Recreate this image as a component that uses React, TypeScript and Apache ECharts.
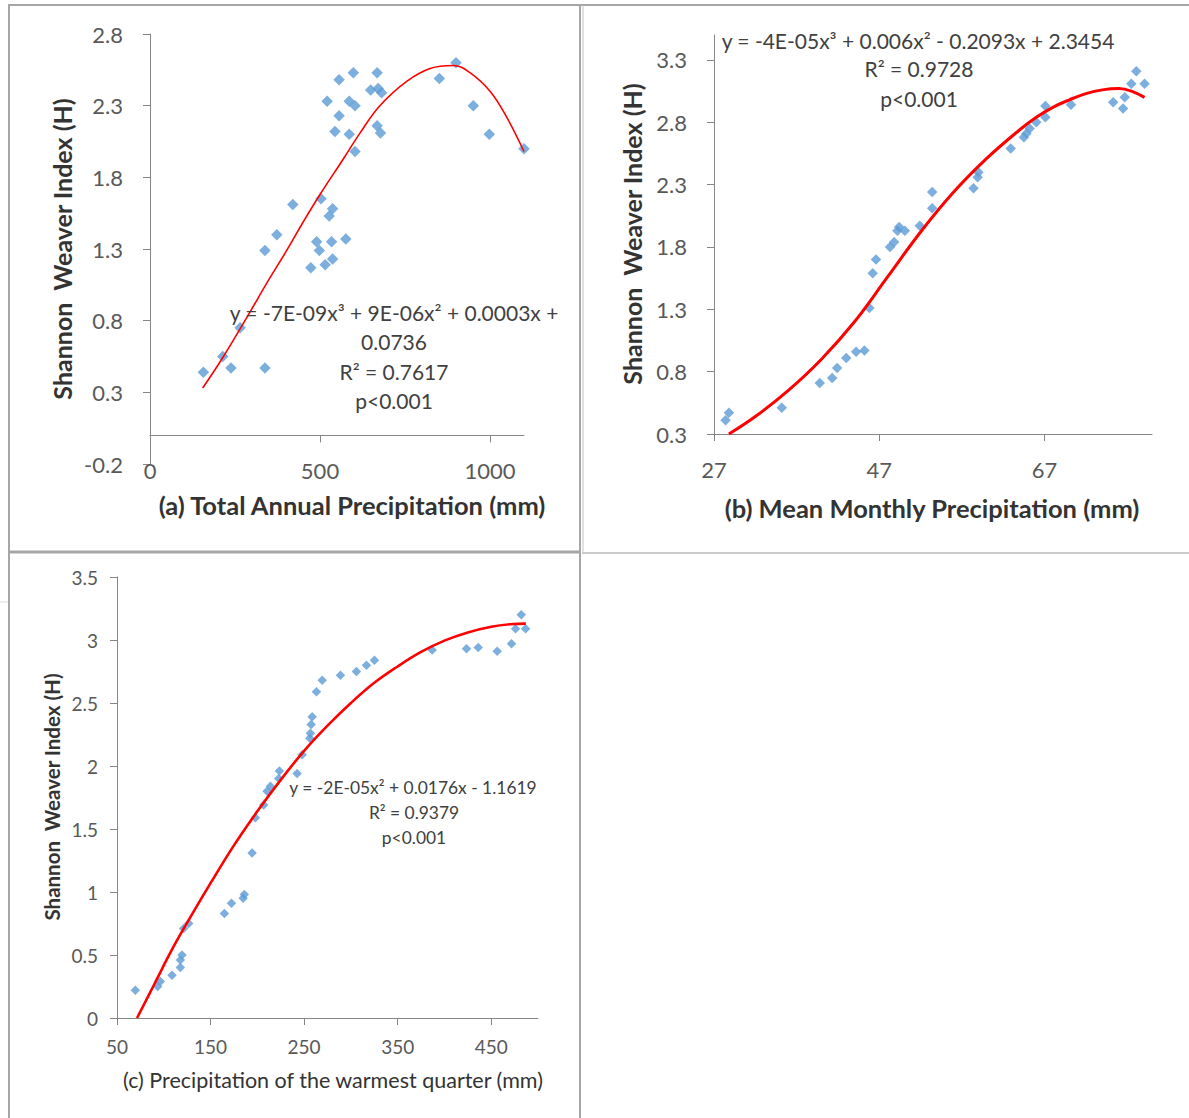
import React, { useEffect, useRef } from "react";
import * as echarts from "echarts";

// ---------- Panel (a): Total annual precipitation ----------
const annualPrecip = [157, 214, 238, 265, 338, 338, 373, 420, 473, 490, 498, 503, 515, 527, 537, 534, 537, 576, 521, 544, 556, 556, 586, 586, 598, 603, 603, 649, 668, 671, 681, 668, 678, 851, 900, 951, 998, 1100];
const shannonA = [0.44, 0.55, 0.47, 0.75, 1.29, 0.47, 1.40, 1.61, 1.17, 1.35, 1.29, 1.65, 1.19, 1.53, 1.58, 1.35, 1.23, 1.37, 2.33, 2.12, 2.48, 2.23, 2.33, 2.10, 2.53, 2.30, 1.98, 2.41, 2.53, 2.42, 2.39, 2.16, 2.11, 2.49, 2.60, 2.30, 2.10, 2.00];
const trendAX = [155, 216, 294, 343, 402, 451, 500, 569, 618, 676, 755, 824, 892, 941, 1000, 1049, 1100];
const trendAY = [0.33, 0.55, 0.86, 1.06, 1.29, 1.49, 1.68, 1.93, 2.11, 2.30, 2.47, 2.56, 2.58, 2.53, 2.40, 2.22, 1.98];
const aXTicks = [0, 500, 1000];
const aYTicks = [-0.2, 0.3, 0.8, 1.3, 1.8, 2.3, 2.8];

// ---------- Panel (b): Mean monthly precipitation ----------
const monthlyPrecip = [28.4, 28.8, 35.2, 39.8, 41.3, 41.9, 43.0, 44.2, 45.2, 45.8, 46.2, 46.6, 48.3, 48.8, 49.2, 49.4, 50.1, 51.9, 53.4, 53.4, 58.4, 58.9, 59.0, 62.9, 64.5, 64.8, 65.2, 66.0, 67.1, 67.1, 70.2, 75.3, 76.5, 76.7, 77.5, 78.1, 79.1];
const shannonB = [0.41, 0.47, 0.51, 0.71, 0.75, 0.83, 0.91, 0.96, 0.97, 1.31, 1.59, 1.70, 1.80, 1.84, 1.93, 1.96, 1.93, 1.97, 2.11, 2.24, 2.27, 2.36, 2.40, 2.59, 2.68, 2.71, 2.75, 2.80, 2.84, 2.93, 2.94, 2.96, 2.91, 3.00, 3.11, 3.21, 3.11];
const trendBX = [28.8, 32, 36, 40, 44, 48, 52, 56, 60, 64, 66, 68, 70, 72, 74, 76, 77.5, 79.1];
const trendBY = [0.30, 0.44, 0.65, 0.90, 1.20, 1.56, 1.92, 2.24, 2.51, 2.74, 2.84, 2.92, 2.98, 3.03, 3.06, 3.07, 3.05, 3.00];
const bXTicks = [27, 47, 67];
const bYTicks = [0.3, 0.8, 1.3, 1.8, 2.3, 2.8, 3.3];

// ---------- Panel (c): Precipitation of the warmest quarter ----------
const warmestQ = [69.6, 93.4, 96.3, 108.8, 117.7, 117.7, 119.5, 121.2, 126.6, 164.8, 172.3, 184.8, 186.1, 194.4, 197.9, 206.8, 210.4, 214.0, 222.8, 223.6, 242.5, 247.9, 256.0, 256.7, 257.5, 258.6, 263.2, 269.3, 288.8, 305.9, 316.6, 325.2, 386.9, 423.6, 436.1, 456.4, 471.7, 476.0, 482.1, 486.7];
const shannonC = [0.22, 0.25, 0.29, 0.34, 0.40, 0.46, 0.50, 0.71, 0.75, 0.83, 0.91, 0.95, 0.98, 1.31, 1.59, 1.69, 1.80, 1.84, 1.90, 1.96, 1.94, 2.09, 2.22, 2.26, 2.33, 2.39, 2.59, 2.68, 2.72, 2.75, 2.80, 2.84, 2.92, 2.93, 2.94, 2.91, 2.97, 3.09, 3.20, 3.09];
const trendCX = [71.4, 90, 110, 130, 150, 175, 200, 225, 250, 275, 300, 325, 350, 375, 400, 425, 450, 470, 487];
const trendCY = [0, 0.27, 0.56, 0.82, 1.07, 1.37, 1.64, 1.89, 2.12, 2.32, 2.50, 2.66, 2.79, 2.905, 2.995, 3.06, 3.105, 3.125, 3.13];
const cXTicks = [50, 150, 250, 350, 450];
const cYTicks = [0, 0.5, 1, 1.5, 2, 2.5, 3, 3.5];

// ---------- Texts ----------
const yTitle = "Shannon  Weaver Index (H)";
const xTitleA = "(a) Total Annual Precipitation (mm)";
const xTitleB = "(b) Mean Monthly Precipitation (mm)";
const xTitleC = "(c) Precipitation of the warmest quarter (mm)";
const eqA = ["y = -7E-09x³ + 9E-06x² + 0.0003x +", "0.0736", "R² = 0.7617", "p<0.001"];
const eqB = ["y = -4E-05x³ + 0.006x² - 0.2093x + 2.3454", "R² = 0.9728", "p<0.001"];
const eqC = ["y = -2E-05x² + 0.0176x - 1.1619", "R² = 0.9379", "p<0.001"];

const FONT = "Lato";
const LABEL = "#595959";
const TITLE = "#333333";
const EQ = "#404040";
const AXIS = "#868686";
const BLUE = "#5b9bd5";
const RED = "#ff0000";
const BORDER = "#a6a6a6";

const zip = (xs: number[], ys: number[]) => xs.map((x, i) => [x, ys[i]]);

function txt(text: string, x: number, y: number, size: number, bold = false, rotate = false, color = TITLE) {
  return {
    type: "text",
    x,
    y,
    rotation: rotate ? Math.PI / 2 : 0,
    silent: true,
    z: 100,
    style: {
      text,
      fill: color,
      fontSize: size,
      fontFamily: FONT,
      fontWeight: bold ? "bold" : "normal",
      align: "center",
      verticalAlign: "middle",
      textAlign: "center",
      textVerticalAlign: "middle",
    },
  };
}

function line(x1: number, y1: number, x2: number, y2: number, w = 2, c = BORDER) {
  return { type: "line", silent: true, z: 50, shape: { x1, y1, x2, y2 }, style: { stroke: c, lineWidth: w } };
}

function valueAxis(gridIndex: number, min: number, max: number, ticks: number[], fontSize: number, margin: number, fmt?: (v: number) => string) {
  return {
    type: "value",
    gridIndex,
    min,
    max,
    splitLine: { show: false },
    axisLine: { show: true, onZero: false, lineStyle: { color: AXIS, width: 1 } },
    axisTick: { show: true, customValues: ticks, length: 7, lineStyle: { color: AXIS, width: 1 } },
    axisLabel: {
      customValues: ticks,
      margin,
      color: LABEL,
      fontSize,
      fontFamily: FONT,
      formatter: fmt ? (v: number) => fmt(v) : (v: number) => String(v),
    },
  };
}

const f1 = (v: number) => v.toFixed(1);

const option = {
  animation: false,
  backgroundColor: "#ffffff",
  grid: [
    { left: 150, top: 34, width: 374, height: 430 },
    { left: 714, top: 35, width: 438, height: 399 },
    { left: 117, top: 577, width: 421, height: 441 },
  ],
  xAxis: [
    {
      type: "value",
      gridIndex: 0,
      min: 0,
      max: 1100,
      position: "bottom",
      splitLine: { show: false },
      axisLine: { show: false, onZero: false },
      axisTick: { show: false },
      axisLabel: { customValues: aXTicks, margin: -5, color: LABEL, fontSize: 22, fontFamily: FONT, formatter: (v: number) => String(v) },
    },
    {
      type: "value",
      gridIndex: 0,
      min: 0,
      max: 1100,
      position: "bottom",
      splitLine: { show: false },
      axisLine: { show: true, onZero: true, lineStyle: { color: AXIS, width: 1 } },
      axisTick: { show: true, customValues: aXTicks, length: 7, lineStyle: { color: AXIS } },
      axisLabel: { show: false },
    },
    valueAxis(1, 27, 80, bXTicks, 22, 24),
    valueAxis(2, 50, 500, cXTicks, 19, 19),
  ],
  yAxis: [
    valueAxis(0, -0.2, 2.8, aYTicks, 22, 27, f1),
    valueAxis(1, 0.3, 3.5, bYTicks, 22, 27, f1),
    valueAxis(2, 0, 3.5, cYTicks, 19, 19),
  ],
  series: [
    {
      type: "scatter",
      xAxisIndex: 0,
      yAxisIndex: 0,
      data: zip(annualPrecip, shannonA),
      symbol: "diamond",
      symbolSize: 11.5,
      itemStyle: { color: BLUE },
      z: 2,
    },
    {
      type: "line",
      xAxisIndex: 0,
      yAxisIndex: 0,
      data: zip(trendAX, trendAY),
      smooth: 0.4,
      showSymbol: false,
      lineStyle: { color: RED, width: 1.6 },
      z: 3,
    },
    {
      type: "scatter",
      xAxisIndex: 2,
      yAxisIndex: 1,
      data: zip(monthlyPrecip, shannonB),
      symbol: "diamond",
      symbolSize: 10.5,
      itemStyle: { color: BLUE },
      z: 2,
    },
    {
      type: "line",
      xAxisIndex: 2,
      yAxisIndex: 1,
      data: zip(trendBX, trendBY),
      smooth: 0.4,
      showSymbol: false,
      lineStyle: { color: RED, width: 3 },
      z: 3,
    },
    {
      type: "scatter",
      xAxisIndex: 3,
      yAxisIndex: 2,
      data: zip(warmestQ, shannonC),
      symbol: "diamond",
      symbolSize: 9.5,
      itemStyle: { color: BLUE },
      z: 2,
    },
    {
      type: "line",
      xAxisIndex: 3,
      yAxisIndex: 2,
      data: zip(trendCX, trendCY),
      smooth: 0.4,
      showSymbol: false,
      lineStyle: { color: RED, width: 2.6 },
      z: 3,
    },
  ],
  graphic: [
    // table borders
    line(8, 5, 1189, 5, 2),
    line(9, 5, 9, 1118, 2),
    line(580, 5, 580, 1118, 2),
    line(583, 5, 583, 552, 1, "#c4c4c4"),
    line(8, 552, 581, 552, 3),
    line(582, 553, 1189, 553, 1.5, "#b8b8b8"),
    line(0, 602, 8, 602, 1, "#d9d9d9"),
    // axis titles
    txt(xTitleA, 352, 505, 25.5, true),
    txt(xTitleB, 932, 508, 25.5, true),
    txt(xTitleC, 333, 1080, 21.5, false),
    txt(yTitle, 62, 249, 25, true, true),
    txt(yTitle, 632, 234, 25, true, true),
    txt(yTitle, 52, 797, 20.5, true, true),
    // trendline labels
    txt(eqA[0], 394, 312, 21, false, false, EQ),
    txt(eqA[1], 394, 341, 21, false, false, EQ),
    txt(eqA[2], 394, 371, 21, false, false, EQ),
    txt(eqA[3], 394, 400, 21, false, false, EQ),
    txt(eqB[0], 918, 40, 21, false, false, EQ),
    txt(eqB[1], 919, 68, 21, false, false, EQ),
    txt(eqB[2], 919, 98, 21, false, false, EQ),
    txt(eqC[0], 413, 787, 17.4, false, false, EQ),
    txt(eqC[1], 414, 812, 17.4, false, false, EQ),
    txt(eqC[2], 414, 837, 17.4, false, false, EQ),
  ],
};

export default function App() {
  const ref = useRef<HTMLDivElement>(null);
  useEffect(() => {
    document.body.style.margin = "0";
    const chart = echarts.init(ref.current!, null, { renderer: "svg" });
    chart.setOption(option as any);
    return () => chart.dispose();
  }, []);
  return <div ref={ref} style={{ width: 1189, height: 1118, background: "#ffffff" }} />;
}
